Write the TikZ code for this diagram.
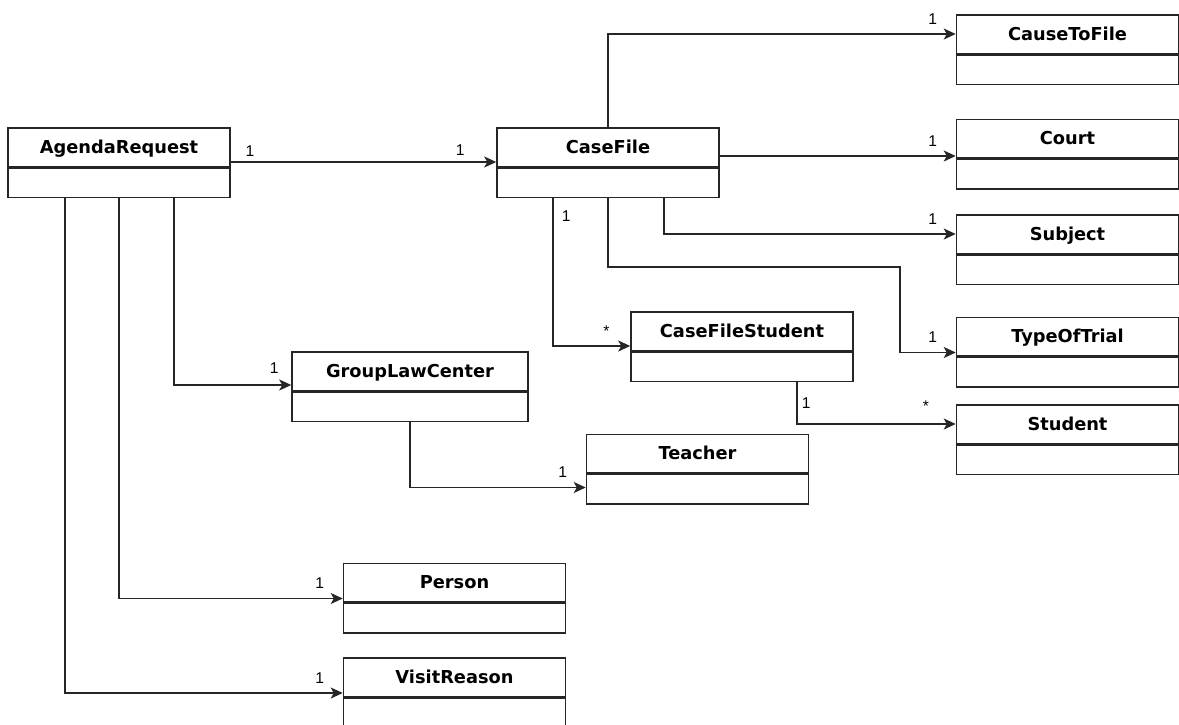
\documentclass[tikz,border=0pt]{standalone}
\usepackage{fontspec}
\setsansfont{DejaVu Sans}
\newfontfamily\multfont{Liberation Sans}
\usetikzlibrary{positioning,arrows.meta}
\colorlet{umlline}{black!85}

\begin{document}
\begin{tikzpicture}[x=0.5pt, y=-0.5pt, line width=0.75pt,
  head/.style = {draw=umlline, minimum width=#1, minimum height=19.25pt, inner sep=0pt,
    text height=8pt, text depth=1.6pt, font=\sffamily\bfseries\fontsize{8.9}{10}\selectfont},
  head/.default = 111pt,
  body/.style = {draw=umlline, minimum width=#1, minimum height=14.75pt, inner sep=0pt},
  body/.default = 111pt,
  assoc/.style = {draw=umlline, -{Stealth[length=6pt, width=5.5pt, inset=1.5pt]}},
  mult/.style = {inner sep=0pt, font=\multfont\fontsize{7.8}{9}\selectfont},
  endlbl/.style = {mult, above left=4.5pt and 9pt}]
  \useasboundingbox (0,0) rectangle (1179,724);

  % classes
  \node[head] (agenda) at (119,147) {AgendaRequest};
  \node[body, below=0pt of agenda] (agenda-b) {};
  \node[head] (casefile) at (608,147) {CaseFile};
  \node[body, below=0pt of casefile] (casefile-b) {};
  \node[head] (cause) at (1067.5,34) {CauseToFile};
  \node[body, below=0pt of cause] (cause-b) {};
  \node[head] (court) at (1067.5,138.5) {Court};
  \node[body, below=0pt of court] (court-b) {};
  \node[head] (subject) at (1067.5,234) {Subject};
  \node[body, below=0pt of subject] (subject-b) {};
  \node[head] (trial) at (1067.5,336.5) {TypeOfTrial};
  \node[body, below=0pt of trial] (trial-b) {};
  \node[head] (student) at (1067.5,424) {Student};
  \node[body, below=0pt of student] (student-b) {};
  \node[head] (cfstudent) at (742,331) {CaseFileStudent};
  \node[body, below=0pt of cfstudent] (cfstudent-b) {};
  \node[head=118pt] (glc) at (410,371) {GroupLawCenter};
  \node[body=118pt, below=0pt of glc] (glc-b) {};
  \node[head] (teacher) at (697.5,453.5) {Teacher};
  \node[body, below=0pt of teacher] (teacher-b) {};
  \node[head] (person) at (454.5,582.5) {Person};
  \node[body, below=0pt of person] (person-b) {};
  \node[head] (visit) at (454.5,677) {VisitReason};
  \node[body, below=0pt of visit] (visit-b) {};

  \coordinate (trialbend) at (900,267);

  % associations
  \draw[assoc] ([yshift=2.5pt]agenda.south east) node[mult, above right=2.5pt and 7pt] {1}
    -- ([yshift=2.5pt]casefile.south west) node[mult, above left=3pt and 15.5pt] {1};
  \draw[assoc] (casefile.north) |- (cause.west) node[endlbl] {1};
  \draw[assoc] ([yshift=-4.5pt]casefile.east) -- ([yshift=-8.75pt]court.west) node[endlbl] {1};
  \draw[assoc] ([xshift=28pt]casefile-b.south) |- (subject.west) node[endlbl] {1};
  \draw[assoc] (casefile-b.south) |- (trialbend) |- ([yshift=2pt]trial.south west) node[endlbl] {1};
  \draw[assoc] ([xshift=-27.5pt]casefile-b.south) node[mult, below right=6pt and 4pt] {1}
    |- ([yshift=2.5pt]cfstudent.south west) node[mult, above left=4.5pt and 10pt] {*};
  \draw[assoc] ([xshift=27.5pt]cfstudent-b.south) node[mult, below right=7.5pt and 2pt] {1}
    |- (student.west) node[mult, above left=5.75pt and 13pt] {*};
  \draw[assoc] ([xshift=27.5pt]agenda-b.south) |- ([yshift=3pt]glc.south west) node[mult, above left=5.5pt and 6pt] {1};
  \draw[assoc] (agenda-b.south) |- ([yshift=2pt]person.south west) node[endlbl] {1};
  \draw[assoc] ([xshift=-27pt]agenda-b.south) |- ([yshift=2pt]visit.south west) node[endlbl] {1};
  \draw[assoc] (glc-b.south) |- ([yshift=-7pt]teacher.south west) node[endlbl] {1};
\end{tikzpicture}
\end{document}
